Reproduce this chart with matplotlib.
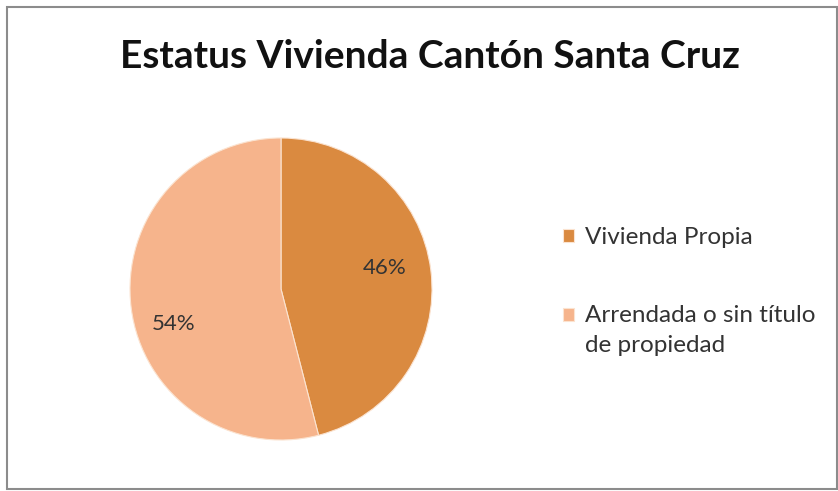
import numpy as np
import matplotlib.pyplot as plt
from matplotlib.patches import Rectangle
from matplotlib.legend_handler import HandlerPatch

# datos de vivienda
categorias = ["Vivienda Propia", "Arrendada o sin título\nde propiedad"]
porcentajes = [46, 54]
colores = ["#DA8A40", "#F6B48C"]

W, H = 838, 491
fig = plt.figure(figsize=(W / 100, H / 100), dpi=100)
fig.patch.set_facecolor("white")

# marco gris del grafico
fig.patches.append(Rectangle((7 / W, 2 / H), 830 / W, 482 / H, transform=fig.transFigure,
                             fill=False, edgecolor="#8c8c8c", linewidth=1.5))

fig.text(430 / W, 1 - 57 / H, "Estatus Vivienda Cantón Santa Cruz", ha="center", va="center",
         fontsize=28, fontweight="bold", family="Lato", color="#111111")

ax = fig.add_axes([130 / W, (202 - 151) / H, 302 / W, 302 / H])
cunas, textos, autotextos = ax.pie(porcentajes, colors=colores, startangle=90, counterclock=False,
                                   autopct="%d%%", pctdistance=0.72,
                                   wedgeprops=dict(edgecolor="#fbe3d0", linewidth=0.8),
                                   textprops=dict(fontsize=16, family="Lato", color="#333333"))
ax.set_xlim(-1, 1)
ax.set_ylim(-1, 1)
ax.set_aspect("equal")

# posicion de las etiquetas: giro y radio respecto al centro de cada sector
ajustes = [(4, 0.70), (11, 0.75)]
for cuna, txt, (giro, r) in zip(cunas, autotextos, ajustes):
    ang = np.deg2rad((cuna.theta1 + cuna.theta2) / 2 + giro)
    txt.set_position((r * np.cos(ang), r * np.sin(ang)))


# cuadrito alineado con la primera linea del texto
def cuadro_arriba(legend, orig_handle, xdescent, ydescent, width, height, fontsize):
    return Rectangle((-xdescent, -ydescent + 11.5), width, height)


leg = fig.legend(cunas, categorias, loc="upper left", bbox_to_anchor=(541 / W, 1 - 205 / H),
                 frameon=False, handlelength=0.47, handleheight=0.47, handletextpad=0.45,
                 labelspacing=2.35, prop=dict(family="Lato", size=17.5), labelcolor="#333333",
                 handler_map={cunas[1]: HandlerPatch(patch_func=cuadro_arriba)})
for t in leg.get_texts():
    t.set_linespacing(1.55)

fig.savefig("out.png", dpi=100)
